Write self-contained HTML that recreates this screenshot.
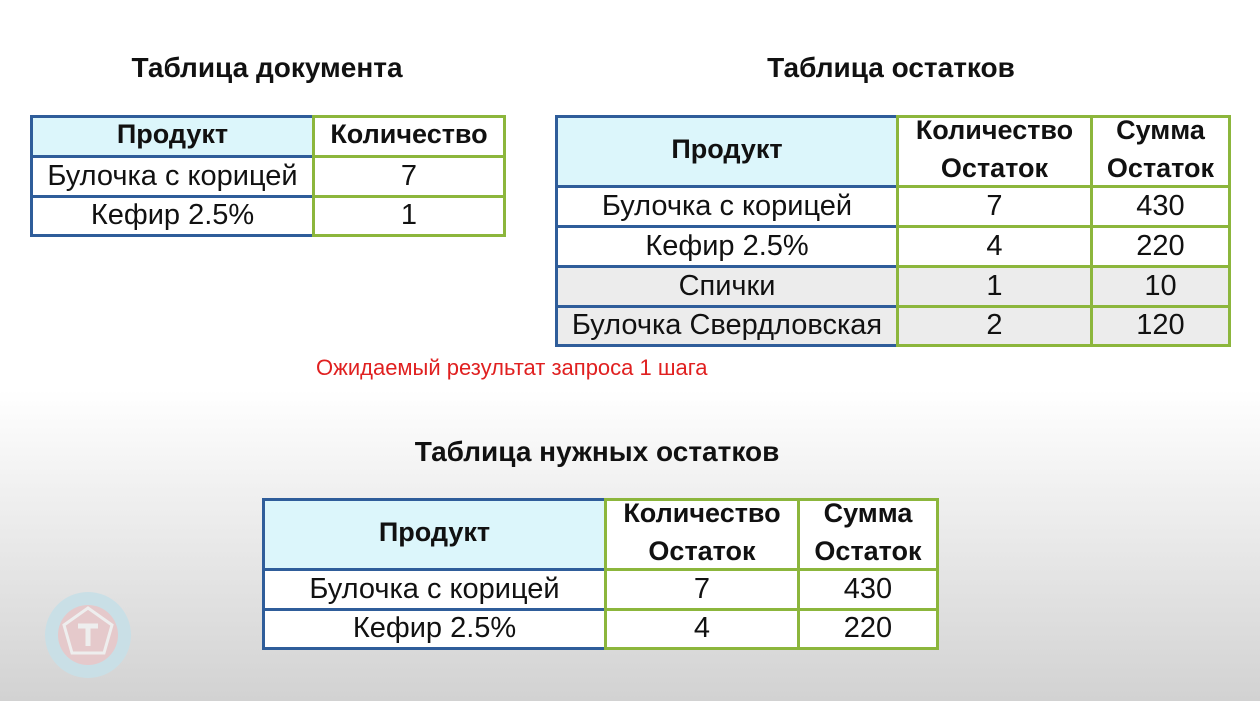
<!DOCTYPE html>
<html><head><meta charset="utf-8"><style>
html,body{margin:0;padding:0}
body{width:1260px;height:701px;position:relative;overflow:hidden;font-family:"Liberation Sans","DejaVu Sans",sans-serif;
background:linear-gradient(to bottom,#ffffff 0px,#ffffff 390px,#ececec 520px,#d2d2d2 701px);}
.t{position:absolute;font-weight:bold;font-size:28px;color:#111;white-space:nowrap;transform:translateX(-50%)}
.c{position:absolute;box-sizing:border-box;border:3px solid;display:flex;align-items:center;justify-content:center;text-align:center;font-size:29px;color:#111;line-height:38px;white-space:nowrap;background:#fff;padding-bottom:2px}
.b{border-color:#2f5d9a}.g{border-color:#8cb63c}
.h{font-weight:bold;font-size:27px;padding-bottom:6px}
.cy{background:#dcf6fb}.gr{background:#ececec}
</style></head><body>
<div class="t" style="left:267px;top:52px">Таблица документа</div>
<div class="t" style="left:891px;top:52px">Таблица остатков</div>
<div class="t" style="left:597px;top:436px">Таблица нужных остатков</div>
<div style="position:absolute;left:316px;top:355px;font-size:22px;color:#e02020;white-space:nowrap">Ожидаемый результат запроса 1 шага</div>

<div>
<div class="c b h cy" style="left:30px;top:115px;width:285px;height:43px">Продукт</div>
<div class="c b" style="left:30px;top:155px;width:285px;height:43px">Булочка с корицей</div>
<div class="c b" style="left:30px;top:195px;width:285px;height:42px">Кефир 2.5%</div>
<div class="c g h" style="left:312px;top:115px;width:194px;height:43px">Количество</div>
<div class="c g" style="left:312px;top:155px;width:194px;height:43px">7</div>
<div class="c g" style="left:312px;top:195px;width:194px;height:42px">1</div>
</div>

<div>
<div class="c b h cy" style="left:555px;top:115px;width:344px;height:73px">Продукт</div>
<div class="c b" style="left:555px;top:185px;width:344px;height:43px">Булочка с корицей</div>
<div class="c b" style="left:555px;top:225px;width:344px;height:43px">Кефир 2.5%</div>
<div class="c b gr" style="left:555px;top:265px;width:344px;height:43px">Спички</div>
<div class="c b gr" style="left:555px;top:305px;width:344px;height:42px">Булочка Свердловская</div>
<div class="c g h" style="left:896px;top:115px;width:197px;height:73px">Количество<br>Остаток</div>
<div class="c g" style="left:896px;top:185px;width:197px;height:43px">7</div>
<div class="c g" style="left:896px;top:225px;width:197px;height:43px">4</div>
<div class="c g gr" style="left:896px;top:265px;width:197px;height:43px">1</div>
<div class="c g gr" style="left:896px;top:305px;width:197px;height:42px">2</div>
<div class="c g h" style="left:1090px;top:115px;width:141px;height:73px">Сумма<br>Остаток</div>
<div class="c g" style="left:1090px;top:185px;width:141px;height:43px">430</div>
<div class="c g" style="left:1090px;top:225px;width:141px;height:43px">220</div>
<div class="c g gr" style="left:1090px;top:265px;width:141px;height:43px">10</div>
<div class="c g gr" style="left:1090px;top:305px;width:141px;height:42px">120</div>
</div>

<div>
<div class="c b h cy" style="left:262px;top:498px;width:345px;height:73px">Продукт</div>
<div class="c b" style="left:262px;top:568px;width:345px;height:43px">Булочка с корицей</div>
<div class="c b" style="left:262px;top:608px;width:345px;height:42px">Кефир 2.5%</div>
<div class="c g h" style="left:604px;top:498px;width:196px;height:73px">Количество<br>Остаток</div>
<div class="c g" style="left:604px;top:568px;width:196px;height:43px">7</div>
<div class="c g" style="left:604px;top:608px;width:196px;height:42px">4</div>
<div class="c g h" style="left:797px;top:498px;width:142px;height:73px">Сумма<br>Остаток</div>
<div class="c g" style="left:797px;top:568px;width:142px;height:43px">430</div>
<div class="c g" style="left:797px;top:608px;width:142px;height:42px">220</div>
</div>

<svg style="position:absolute;left:44px;top:592px" width="90" height="88" viewBox="0 0 90 88">
<circle cx="44" cy="43" r="43" fill="#c9dfe6"/>
<circle cx="44" cy="43" r="30" fill="#e5c9cb"/>
<polygon points="44,16 68,33 60,61 28,61 20,33" fill="none" stroke="#eeeeee" stroke-width="3"/>
<path d="M34 34 H54 M44 34 V54" stroke="#eeeeee" stroke-width="5" fill="none"/>
</svg>
</body></html>
